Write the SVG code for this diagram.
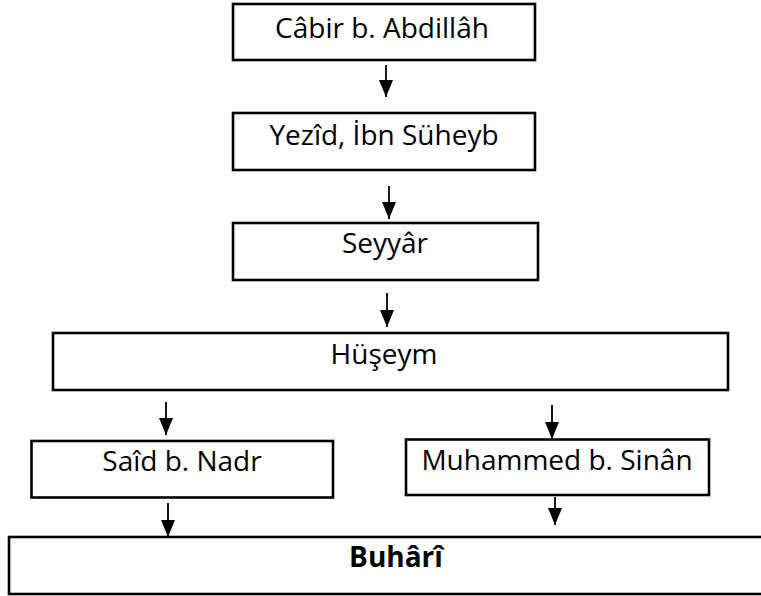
<svg xmlns="http://www.w3.org/2000/svg" width="761" height="596" viewBox="0 0 761 596">
<style>
.box{fill:#fff;stroke:#000;stroke-width:2.6}
.t{font-family:"Open Sans","Noto Sans","Liberation Sans",sans-serif;font-size:28px;fill:#000;text-anchor:middle}
.b{font-weight:bold}
.c{stroke:#000;stroke-width:1.8;fill:none;marker-end:url(#ah)}
</style>
<defs>
<marker id="ah" markerUnits="userSpaceOnUse" viewBox="0 0 17 14" refX="17" refY="7" markerWidth="17" markerHeight="14" orient="auto">
<path d="M0,0 L17,7 L0,14 z" fill="#000"/>
</marker>
</defs>
<rect width="761" height="596" fill="#fff"/>
<g id="connectors">
<line class="c" x1="386" y1="65" x2="386" y2="97"/>
<line class="c" x1="389" y1="186" x2="389" y2="219"/>
<line class="c" x1="387" y1="293" x2="387" y2="327"/>
<line class="c" x1="166" y1="402" x2="166" y2="435"/>
<line class="c" x1="552" y1="405" x2="552" y2="439"/>
<line class="c" x1="168" y1="503" x2="168" y2="537"/>
<line class="c" x1="555" y1="497" x2="555" y2="525"/>
</g>
<g id="n1">
<rect class="box" x="233" y="4" width="302" height="56"/>
<text class="t" x="382" y="38">Câbir b. Abdillâh</text>
</g>
<g id="n2">
<rect class="box" x="233" y="113" width="302" height="57"/>
<text class="t" x="384" y="145">Yezîd, İbn Süheyb</text>
</g>
<g id="n3">
<rect class="box" x="233" y="223" width="305" height="57"/>
<text class="t" x="385" y="253">Seyyâr</text>
</g>
<g id="n4">
<rect class="box" x="53" y="333" width="675" height="57"/>
<text class="t" x="384" y="364">Hüşeym</text>
</g>
<g id="n5">
<rect class="box" x="31.5" y="441" width="301.5" height="56.5"/>
<text class="t" x="182" y="471">Saîd b. Nadr</text>
</g>
<g id="n6">
<rect class="box" x="406" y="439.5" width="303" height="55.5"/>
<text class="t" x="557" y="470">Muhammed b. Sinân</text>
</g>
<g id="n7">
<rect class="box" x="9" y="537" width="790" height="57"/>
<text class="t b" x="396" y="567">Buhârî</text>
</g>
</svg>
